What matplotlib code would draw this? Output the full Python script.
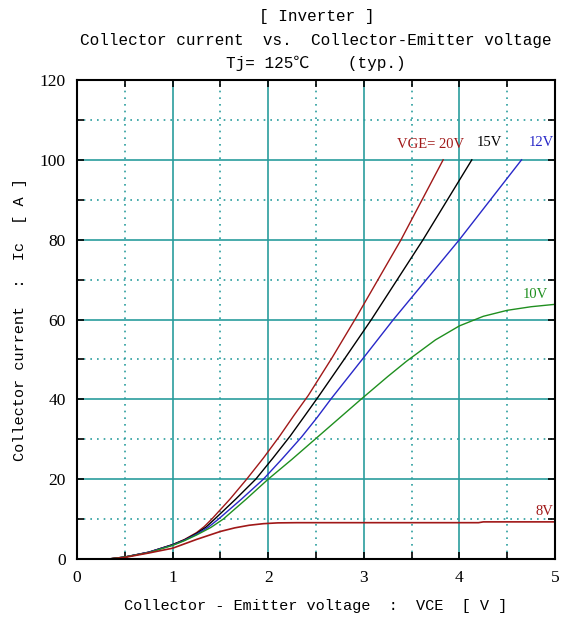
import numpy as np
import matplotlib
matplotlib.use('Agg')
import matplotlib.pyplot as plt
from matplotlib.ticker import MultipleLocator

# Ic-VCE curves (Tj = 125 C)
vce_20 = [0.33, 0.5, 0.75, 1.0, 1.125, 1.25, 1.33, 1.41, 1.6, 1.775, 1.95, 2.12, 2.27, 2.42,
          2.67, 2.92, 3.39, 3.83]
ic_20 = [0.0, 0.5, 1.7, 3.6, 4.9, 6.6, 8.1, 10.0, 15.0, 20.0, 25.3, 30.8, 36.0, 41.0,
         50.5, 60.5, 80, 100]

vce_15 = [0.33, 0.5, 0.75, 1.0, 1.125, 1.25, 1.35, 1.44, 1.66, 1.87, 2.05, 2.23, 2.38, 2.52,
          2.8, 3.08, 3.62, 4.13]
ic_15 = [0.0, 0.5, 1.7, 3.6, 4.8, 6.4, 8.0, 10.0, 15.0, 20.0, 25.3, 30.8, 35.8, 40.5,
         50.2, 60, 80, 100]

vce_12 = [0.33, 0.5, 0.75, 1.0, 1.125, 1.25, 1.37, 1.48, 1.72, 1.95, 2.15, 2.35, 2.51, 2.66,
          3.0, 3.31, 4.0, 4.65]
ic_12 = [0.0, 0.5, 1.7, 3.5, 4.7, 6.2, 7.9, 10.0, 15.0, 20.0, 25.2, 30.6, 35.4, 40.2,
         50.5, 60, 80, 100]

vce_10 = [0.33, 0.5, 0.75, 1.0, 1.125, 1.25, 1.4, 1.53, 1.77, 2.0, 2.25, 2.49, 2.73, 2.97,
          3.25, 3.45, 3.75, 4.0, 4.25, 4.5, 4.75, 5.0]
ic_10 = [0.0, 0.5, 1.6, 3.4, 4.6, 6.0, 7.9, 10.0, 15.0, 20.0, 25.0, 30.0, 35.0, 40.0,
         45.7, 49.6, 54.9, 58.4, 60.8, 62.3, 63.2, 63.8]

vce_8 = [0.33, 0.5, 0.75, 1.0, 1.25, 1.5, 1.65, 1.8, 1.95, 2.1, 2.3, 4.2, 4.25, 5.0]
ic_8 = [0.0, 0.4, 1.5, 2.7, 4.9, 6.9, 7.8, 8.45, 8.85, 9.05, 9.1, 9.1, 9.3, 9.3]

c_red = '#a01818'
c_blue = '#2828c8'
c_green = '#1f8f1f'
c_grid = '#2a9d9d'

mono = ['Liberation Mono', 'Noto Sans CJK JP']
serif = ['Liberation Serif', 'DejaVu Serif']

fig = plt.figure(figsize=(5.73, 6.18), dpi=100)
ax = fig.add_axes([77 / 573, 59 / 618, 478 / 573, 479 / 618])

ax.plot(vce_20, ic_20, color=c_red, lw=1)
ax.plot(vce_15, ic_15, color='black', lw=1)
ax.plot(vce_12, ic_12, color=c_blue, lw=1)
ax.plot(vce_10, ic_10, color=c_green, lw=1)
ax.plot(vce_8, ic_8, color=c_red, lw=1.2)

ax.set_xlim(0, 5)
ax.set_ylim(0, 120)
ax.xaxis.set_major_locator(MultipleLocator(1))
ax.xaxis.set_minor_locator(MultipleLocator(0.5))
ax.yaxis.set_major_locator(MultipleLocator(20))
ax.yaxis.set_minor_locator(MultipleLocator(10))

ax.grid(which='major', color=c_grid, lw=1.2, ls='-')
ax.grid(which='minor', color=c_grid, lw=1.2, ls=(0, (1, 3)))
ax.set_axisbelow(True)

ax.tick_params(which='both', direction='in', top=True, right=True,
               length=5, width=1.2, labelsize=12.5, pad=8)
for lab in ax.get_xticklabels() + ax.get_yticklabels():
    lab.set_family(serif)
for s in ax.spines.values():
    s.set_linewidth(1.5)

ax.set_xlabel('Collector - Emitter voltage  :  VCE  [ V ]', family=mono,
              fontsize=11, labelpad=9)
ax.set_ylabel('Collector current  :  Ic  [ A ]', family=mono,
              fontsize=11, labelpad=9)

ax.text(3.35, 103, 'VGE= 20V', color=c_red, family=serif, fontsize=10.5)
ax.text(4.18, 103.5, '15V', color='black', family=serif, fontsize=10.5)
ax.text(4.72, 103.5, '12V', color=c_blue, family=serif, fontsize=10.5)
ax.text(4.66, 65.5, '10V', color=c_green, family=serif, fontsize=10.5)
ax.text(4.8, 11, '8V', color=c_red, family=serif, fontsize=10.5)

fig.text(0.552, 0.974, '[ Inverter ]', ha='center', va='center',
         family=mono, fontsize=11.5)
fig.text(0.552, 0.935, 'Collector current  vs.  Collector-Emitter voltage',
         ha='center', va='center', family=mono, fontsize=11.5)
fig.text(0.552, 0.898, 'Tj= 125\u2103    (typ.)', ha='center', va='center',
         family=mono, fontsize=11.5)

fig.savefig('out.png', dpi=100)
